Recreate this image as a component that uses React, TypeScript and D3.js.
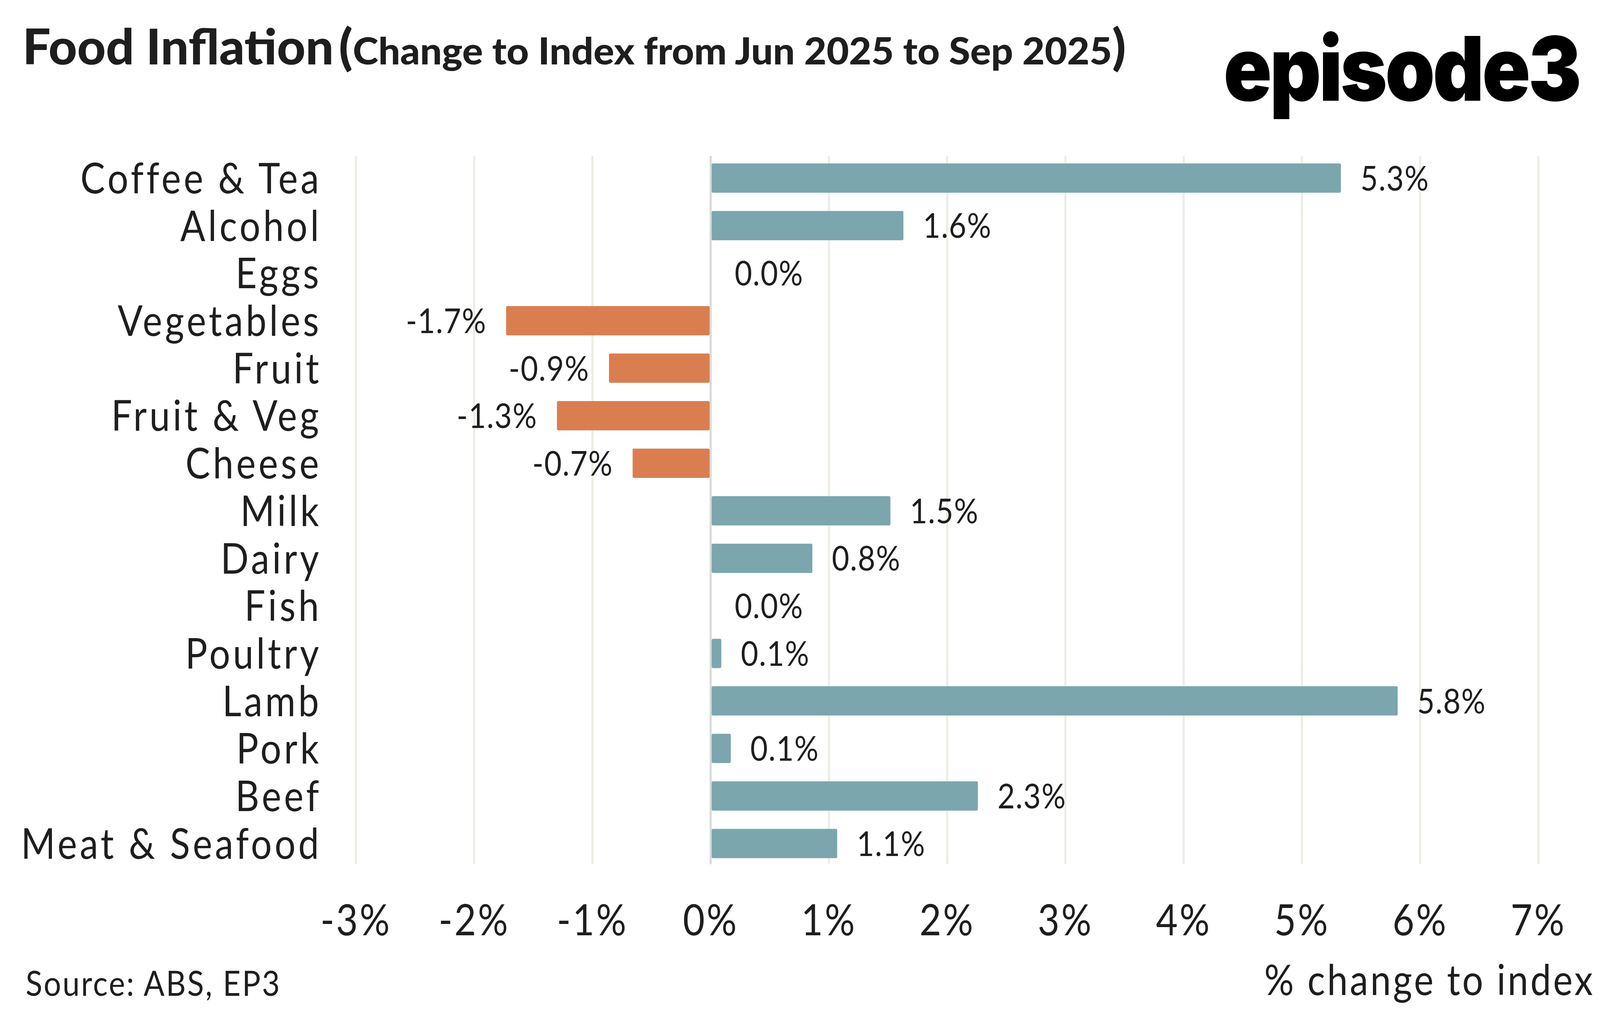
import * as d3 from "d3";
import { useEffect } from "react";

const categories = [
  "Coffee & Tea",
  "Alcohol",
  "Eggs",
  "Vegetables",
  "Fruit",
  "Fruit & Veg",
  "Cheese",
  "Milk",
  "Dairy",
  "Fish",
  "Poultry",
  "Lamb",
  "Pork",
  "Beef",
  "Meat & Seafood",
];

// change to index, Jun 2025 -> Sep 2025 (%)
const values = [5.33, 1.63, 0.0, -1.73, -0.86, -1.3, -0.66, 1.52, 0.86, 0.0, 0.09, 5.81, 0.17, 2.26, 1.07];
const valueLabels = ["5.3%", "1.6%", "0.0%", "-1.7%", "-0.9%", "-1.3%", "-0.7%", "1.5%", "0.8%", "0.0%", "0.1%", "5.8%", "0.1%", "2.3%", "1.1%"];

const xTicks = [-3, -2, -1, 0, 1, 2, 3, 4, 5, 6, 7];

const W = 4675;
const H = 2594;
const FONT = "Lato, 'Open Sans', sans-serif";
const INK = "#1e1e1e";
const TEAL = "#7ba6ae";
const ORANGE = "#da7e50";

export default function App() {
  useEffect(() => {
    document.body.style.margin = "0";
    document.body.style.overflow = "hidden";
  }, []);

  const x = d3.scaleLinear().domain([-3, 7]).range([1040, 4495]);
  const y = d3.scalePoint<string>().domain(categories).range([456, 2160]);
  const barH = 75;

  return (
    <svg
      viewBox={`0 0 ${W} ${H}`}
      preserveAspectRatio="none"
      style={{ display: "block", width: "100vw", height: "100vh", background: "#fff" }}
    >
      {/* title */}
      <text x={66} y={165} fontFamily={FONT} fontWeight={900} fontSize={125} fill={INK}
        textLength={909} lengthAdjust="spacingAndGlyphs">
        Food Inflation
      </text>
      <text x={990} y={165} fontFamily={FONT} fontWeight={900} fill={INK}
        textLength={2300} lengthAdjust="spacingAndGlyphs">
        <tspan fontSize={125}>(</tspan>
        <tspan fontSize={96}>Change to Index from Jun 2025 to Sep 2025</tspan>
        <tspan fontSize={125}>)</tspan>
      </text>

      {/* logo */}
      <text
        x={3575}
        y={258}
        fontFamily="Inter, sans-serif"
        fontWeight={900}
        fontSize={228}
        letterSpacing={-6}
        textLength={1040}
        lengthAdjust="spacingAndGlyphs"
        fill="#000"
      >
        episode3
      </text>

      {/* gridlines */}
      {xTicks.map((t) => (
        <line
          key={t}
          x1={x(t)}
          x2={x(t)}
          y1={399}
          y2={2213}
          stroke={t === 0 ? "#d9d9d9" : "#ecece4"}
          strokeWidth={6}
        />
      ))}

      {/* bars */}
      {categories.map((c, i) => {
        const v = values[i];
        const cy = y(c) as number;
        const x0 = x(Math.min(0, v));
        const x1 = x(Math.max(0, v));
        return (
          <g key={c}>
            {v !== 0 && (
              <rect
                x={v > 0 ? x(0) + 3 : x0}
                y={cy - barH / 2}
                width={Math.max(0, x1 - x0 - 3)}
                height={barH}
                rx={4}
                fill={v >= 0 ? TEAL : ORANGE}
              />
            )}
            <text
              x={v >= 0 ? (v === 0 ? x(0) + 70 : x1 + 57) : x0 - 57}
              y={cy}
              dy="0.36em"
              textAnchor={v >= 0 ? "start" : "end"}
              fontFamily={FONT}
              fontSize={88}
              letterSpacing={2}
              fill={INK}
            >
              {valueLabels[i]}
            </text>
            <text
              x={940}
              y={cy}
              dy="0.36em"
              textAnchor="end"
              fontFamily={FONT}
              fontSize={108}
              letterSpacing={8}
              fill={INK}
            >
              {c}
            </text>
          </g>
        );
      })}

      {/* x tick labels */}
      {xTicks.map((t) => (
        <text
          key={t}
          x={x(t)}
          y={2395}
          textAnchor="middle"
          fontFamily={FONT}
          fontSize={110}
          letterSpacing={5}
          fill={INK}
        >
          {`${t}%`}
        </text>
      ))}

      <text x={75} y={2550} fontFamily={FONT} fontSize={90} letterSpacing={4} fill={INK}>
        Source: ABS, EP3
      </text>
      <text x={4660} y={2548} textAnchor="end" fontFamily={FONT} fontSize={108} letterSpacing={6} fill={INK}>
        % change to index
      </text>
    </svg>
  );
}
